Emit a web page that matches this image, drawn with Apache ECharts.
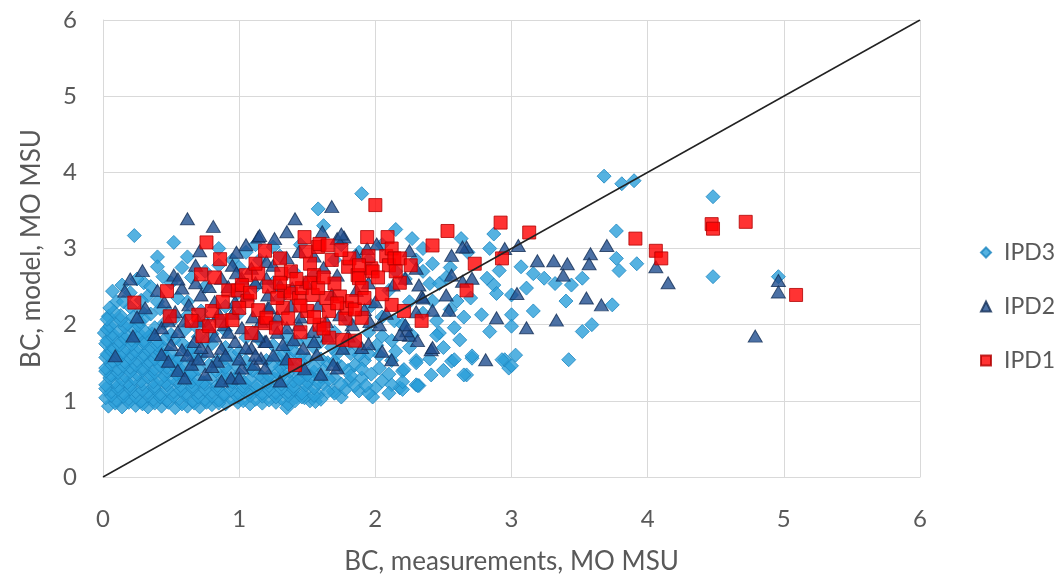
<!DOCTYPE html>
<html>
<head>
<meta charset="utf-8">
<title>BC model vs measurements</title>
<script src="https://cdn.jsdelivr.net/npm/echarts@6/dist/echarts.min.js"></script>
<style>
  html, body { margin: 0; padding: 0; background: #fff; }
  #chart { width: 1063px; height: 580px; }
</style>
</head>
<body>
<div id="chart"></div>
<script>
const ipd1 = [
  [0.23,2.29],[0.47,2.44],[0.49,2.11],[0.72,2.66],[0.76,3.08],[0.86,2.86],[0.92,2.45],[0.99,2.45],
  [0.70,2.13],[0.80,2.18],[0.87,2.05],[0.95,2.06],[0.73,1.85],[0.78,1.98],[1.05,2.65],[1.14,2.67],
  [1.19,2.97],[1.06,2.31],[1.14,2.19],[1.09,1.89],[1.19,2.02],[1.02,2.52],[1.20,2.09],[1.27,1.96],
  [1.30,2.87],[1.31,2.67],[1.38,2.70],[1.33,2.44],[1.32,2.22],[1.38,2.41],[1.41,1.47],[1.44,2.35],
  [1.46,2.48],[1.48,3.15],[1.49,2.96],[1.52,2.80],[1.50,2.18],[1.54,2.39],[1.55,2.65],[1.58,3.02],
  [1.59,3.06],[1.59,2.00],[1.64,2.35],[1.65,3.04],[1.66,2.18],[1.66,1.83],[1.70,2.54],[1.74,2.37],
  [1.76,1.80],[1.79,2.22],[1.80,2.76],[1.81,2.87],[1.83,2.31],[1.85,1.79],[1.87,2.65],[1.88,2.61],
  [1.90,2.09],[1.90,2.48],[1.94,3.15],[1.97,2.74],[1.98,2.70],[2.00,3.57],[2.09,3.15],[2.08,2.90],
  [2.10,2.78],[2.12,3.00],[2.12,2.26],[2.14,2.87],[2.18,2.87],[2.21,2.18],[2.26,2.78],[2.34,2.05],
  [2.42,3.04],[2.53,3.23],[2.67,2.45],[2.73,2.80],[2.92,3.34],[2.93,2.87],[3.13,3.21],[3.91,3.13],
  [4.06,2.97],[4.10,2.87],[4.47,3.32],[4.48,3.26],[4.72,3.35],[5.09,2.39],
  [1.12,2.80],[1.22,2.50],[1.28,2.35],[1.36,2.08],[1.42,2.60],[1.45,2.25],[1.52,2.55],[1.58,2.48],
  [1.62,2.62],[1.68,2.85],[1.72,2.28],[1.78,2.08],[1.85,2.20],[1.92,2.35],[1.95,2.90],[2.02,2.62],
  [2.05,2.40],[2.18,2.55],[1.75,2.98],[1.62,1.95],[1.55,2.10],[1.45,1.90],[1.30,2.55],[1.00,2.22],
  [0.88,2.30],[0.82,2.62],[1.08,2.42],[0.65,2.05],[1.88,2.78],[2.15,2.70]
];

const ipd2 = [
  [0.62,3.39],[0.81,3.29],[0.29,2.71],[0.52,2.65],[0.71,2.97],[0.16,2.44],[0.09,1.59],[0.95,2.78],
  [1.14,3.15],[1.41,3.39],[1.68,3.55],[1.26,3.13],[1.35,3.22],[1.61,3.22],[1.77,3.15],[1.72,3.13],
  [1.94,3.00],[2.01,3.06],[1.75,3.19],[2.25,2.97],[2.34,2.37],[2.41,1.67],[2.12,1.54],[1.90,1.70],
  [1.72,1.43],[2.25,1.86],[1.15,3.17],[3.05,3.04],[2.95,3.00],[2.67,3.02],[2.56,2.91],[3.19,2.84],
  [3.31,2.84],[3.41,2.80],[3.58,2.93],[3.57,2.80],[3.70,3.04],[3.38,2.65],[3.55,2.35],[3.66,2.26],
  [3.33,2.06],[3.11,1.96],[3.04,2.41],[2.89,2.09],[2.81,1.54],[2.54,2.19],[2.42,2.19],[2.35,2.35],
  [2.52,2.39],[2.64,2.57],[2.56,2.65],[2.71,2.61],[2.64,3.02],[4.06,2.76],[4.15,2.55],[4.96,2.58],
  [4.96,2.43],[4.79,1.85],[2.42,1.70],[2.23,1.92],[2.31,1.79],
  [0.50,1.74],[0.58,1.67],[0.65,1.48],[0.75,1.35],[0.84,1.52],[0.94,1.30],[1.02,1.43],[1.11,1.48],
  [1.16,1.56],[1.19,1.78],[1.09,1.69],[0.97,1.78],[0.87,1.69],[0.77,1.65],[0.67,1.78],[0.55,1.91],
  [0.43,1.96],[0.38,1.87],[0.53,2.17],[0.63,2.26],[0.72,2.39],[0.82,2.30],[0.97,2.30],[1.06,2.39],
  [0.87,2.61],[0.58,2.48],[0.31,2.22],[0.43,1.61],[0.77,2.00],[0.89,2.00],[1.02,1.96],[1.16,2.04],
  [1.21,2.22],[1.21,2.39],[1.09,2.74],[1.02,2.61],[1.19,1.43],[0.87,1.26],
  [1.20,2.61],[1.30,2.52],[1.39,2.48],[1.49,2.56],[1.22,2.22],[1.35,1.96],[1.44,2.00],[1.54,1.91],
  [1.64,2.04],[1.74,2.13],[1.83,2.00],[1.47,1.69],[1.32,1.74],[1.20,1.78],[1.57,1.61],[1.76,1.69],
  [1.69,1.48],[1.96,2.04],[2.03,2.00],[2.22,2.00],[2.30,2.17],[2.18,1.87],[1.30,1.26],[1.20,2.83],
  [1.44,2.96],[2.22,2.61],[2.32,2.52],[2.13,2.52],[2.30,2.74],[1.86,2.91],
  [0.48,1.52],[0.55,1.40],[0.62,1.60],[0.70,1.55],[0.72,1.70],[0.80,1.45],[0.82,1.85],[0.90,1.60],
  [0.92,1.90],[1.00,1.55],[1.05,1.70],[1.12,1.60],[1.14,1.85],[1.25,1.60],[1.28,1.90],[1.35,1.55],
  [1.40,1.80],[1.45,2.10],[1.38,2.25],[1.28,2.10],[1.10,2.10],[0.95,2.15],[0.85,2.15],[0.70,2.05],
  [0.60,2.05],[0.48,2.05],[0.45,2.30],[0.40,2.45],[0.55,2.60],[0.68,2.55],[0.78,2.50],[0.92,2.50],
  [1.12,2.55],[0.98,2.68],[1.25,2.78],[1.35,2.88],[1.55,2.90],[1.62,2.75],[1.72,2.65],[1.68,2.40],
  [1.58,2.25],[1.86,2.45],[1.95,2.55],[2.00,2.30],[2.08,2.15],[1.92,2.20],[1.55,1.78],[1.65,1.85],
  [1.80,1.85],[1.95,1.75],[2.05,1.65],[1.48,1.42],[1.60,1.35],[0.60,1.30],[1.00,1.30],[0.22,1.85],
  [0.25,2.10],[0.20,2.60],[1.05,3.05],[0.98,2.95],[0.68,2.78]
];

const ipd3 = [
  // sparse points
  [0.23,3.17],[0.52,3.08],[0.40,2.89],[0.40,2.76],[0.62,2.89],[0.44,2.63],[0.07,2.44],[0.14,2.52],
  [0.01,1.89],[0.04,2.11],[0.10,2.30],[0.20,2.42],[0.30,2.55],[0.33,2.38],
  [1.90,3.72],[1.58,3.52],[2.27,3.13],[2.42,2.80],[2.40,2.54],[2.42,2.31],[2.41,1.34],[2.30,1.21],
  [2.18,1.17],[2.05,1.26],[2.00,1.17],[1.88,1.13],[1.69,1.13],[2.03,1.43],[2.12,1.53],[2.20,1.39],
  [2.30,1.53],[2.27,1.86],[2.01,1.73],[1.92,1.53],[1.85,1.47],[1.81,1.26],[1.52,1.00],[1.35,0.91],
  [2.14,2.05],[2.12,1.79],
  [3.68,3.95],[2.87,3.19],[2.63,3.13],[3.77,3.23],[3.77,2.87],[2.84,3.00],[2.91,2.71],[3.07,2.76],
  [3.16,2.67],[3.24,2.61],[3.32,2.54],[3.44,2.52],[3.52,2.61],[3.74,2.26],[3.11,2.48],[3.00,2.39],
  [2.87,2.52],[2.82,2.61],[2.78,2.13],[3.00,2.13],[3.16,2.18],[3.40,2.31],[3.59,2.00],[3.52,1.91],
  [3.42,1.54],[3.03,1.60],[2.98,1.43],[2.95,1.54],[2.71,1.56],[2.67,1.34],[2.56,1.52],[2.84,1.91],
  [2.58,1.96],[2.47,1.89],[2.32,1.20],[2.60,2.31],[2.47,2.54],
  [3.81,3.85],[3.90,3.89],[4.48,3.68],[3.92,2.80],[3.79,2.71],[4.48,2.63],[4.96,2.63],
  [2.89,2.41],[3.00,1.98],[2.71,1.59],[2.58,1.54],[2.93,1.54],[3.00,1.46],[2.65,1.34],[2.30,1.50],
  [2.21,1.41],[2.31,1.20],[2.20,1.15],[2.12,1.21],[2.45,1.86],[2.03,1.60],
  [2.55,2.75],[2.68,2.95],[2.52,2.62],
  [2.45,2.05],[2.55,2.20],[2.65,2.10],[2.70,2.35],[2.50,1.70],[2.62,1.80],[2.40,1.55],[2.50,1.40],
  [2.15,1.65],[2.25,1.70],[2.05,1.85],[2.20,1.25],[2.10,1.35],[1.98,1.05],[2.10,1.10],
  // middle region
  [1.42,1.05],[1.50,1.15],[1.58,1.08],[1.62,1.22],[1.70,1.30],[1.75,1.05],[1.80,1.40],[1.90,1.30],
  [1.95,1.62],[1.45,1.30],[1.55,1.38],[1.65,1.50],[1.72,1.62],[1.85,1.75],[1.95,1.90],[2.05,2.10],
  [2.20,2.00],[2.25,2.30],[2.35,2.15],[1.60,1.78],[1.50,1.55],[1.40,1.45],[1.80,2.05],[1.97,2.25],
  [2.10,2.45],[2.22,2.60],[2.35,2.70],[1.55,2.65],[1.70,2.85],[1.88,2.95],[2.05,3.05],[2.15,3.25],
  [1.62,3.30],[1.25,3.02],[1.05,2.95],[1.12,3.05],[0.85,3.00],[0.95,2.85],
  [0.35,2.50],[0.25,2.60],[0.58,2.75],[0.75,2.70],[1.00,2.75],[1.30,2.90],[1.45,3.05],[1.75,3.05],
  [1.95,2.85],[2.15,2.70],[2.30,2.85],[2.35,3.00],
  // dense lower-left cloud
  [0.04,0.93],[0.14,0.92],[0.24,0.94],[0.33,0.92],[0.43,0.93],[0.53,0.91],[0.62,0.93],[0.71,0.92],
  [0.80,0.95],[0.90,0.96],
  [0.09,0.97],[0.19,0.98],[0.29,0.96],[0.38,0.97],[0.48,0.98],[0.58,0.96],[0.67,0.97],[0.76,0.98],
  [0.85,0.97],[0.99,0.98],[1.08,0.96],[1.17,0.97],[1.27,0.98],[1.36,0.96],[1.48,1.04],[1.56,0.99],
  [0.02,1.04],[0.10,1.01],[0.19,1.03],[0.28,1.00],[0.37,1.02],[0.47,1.01],[0.56,1.03],[0.66,1.00],
  [0.75,1.02],[0.85,1.01],[0.94,1.03],[1.03,1.00],[1.12,1.02],[1.22,1.01],[1.31,1.03],[1.41,1.00],
  [1.60,1.02],
  [0.06,1.07],[0.15,1.06],[0.24,1.05],[0.33,1.07],[0.42,1.05],[0.52,1.06],[0.61,1.07],[0.70,1.05],
  [0.80,1.06],[0.89,1.07],[0.99,1.05],[1.08,1.07],[1.17,1.06],[1.27,1.05],[1.36,1.07],[1.46,1.05],
  [1.55,1.07],[1.70,1.10],[1.78,1.15],[1.95,1.10],
  [0.06,1.12],[0.15,1.10],[0.24,1.12],[0.33,1.11],[0.42,1.09],[0.52,1.12],[0.61,1.10],[0.70,1.11],
  [0.80,1.12],[0.89,1.09],[0.99,1.11],[1.08,1.12],[1.17,1.10],[1.27,1.11],[1.36,1.12],[1.46,1.10],
  [1.65,1.12],[1.85,1.20],
  [0.02,1.16],[0.11,1.15],[0.20,1.16],[0.29,1.14],[0.38,1.16],[0.47,1.15],[0.57,1.14],[0.66,1.16],
  [0.75,1.15],[0.84,1.16],[0.94,1.14],[1.03,1.15],[1.13,1.16],[1.22,1.14],[1.31,1.16],[1.40,1.15],
  [1.55,1.17],[1.75,1.22],[1.93,1.20],
  [0.02,1.21],[0.11,1.19],[0.20,1.20],[0.29,1.22],[0.38,1.19],[0.47,1.21],[0.57,1.20],[0.66,1.19],
  [0.75,1.22],[0.84,1.20],[0.94,1.21],[1.03,1.19],[1.13,1.21],[1.22,1.20],[1.31,1.22],[1.40,1.19],
  [1.49,1.21],[1.58,1.24],
  [0.09,1.25],[0.18,1.24],[0.28,1.26],[0.37,1.25],[0.46,1.24],[0.55,1.26],[0.65,1.25],[0.74,1.24],
  [0.88,1.26],[0.95,1.25],[1.04,1.24],[1.21,1.25],[1.40,1.26],[1.50,1.25],[1.66,1.28],[1.82,1.33],
  [1.97,1.35],
  [0.05,1.30],[0.14,1.28],[0.23,1.29],[0.33,1.31],[0.42,1.28],[0.51,1.30],[0.60,1.29],[0.70,1.28],
  [0.79,1.30],[0.98,1.29],[1.08,1.28],[1.17,1.31],[1.26,1.29],[1.35,1.30],[1.44,1.28],[1.53,1.32],
  [0.06,1.34],[0.16,1.33],[0.25,1.35],[0.35,1.34],[0.45,1.33],[0.54,1.35],[0.64,1.34],[0.88,1.34],
  [1.00,1.35],[1.15,1.34],[1.22,1.33],[1.32,1.35],[1.50,1.34],[1.60,1.32],[1.75,1.45],[1.90,1.42],
  [0.02,1.39],[0.11,1.37],[0.20,1.38],[0.29,1.40],[0.38,1.37],[0.47,1.39],[0.56,1.38],[0.65,1.37],
  [0.83,1.39],[0.92,1.38],[1.10,1.40],[1.28,1.37],[1.37,1.39],[1.46,1.40],
  [0.02,1.43],[0.11,1.42],[0.20,1.44],[0.29,1.43],[0.38,1.42],[0.47,1.44],[0.56,1.43],[0.70,1.42],
  [0.90,1.44],[1.08,1.43],[1.30,1.44],[1.42,1.42],[1.55,1.45],[1.62,1.40],[1.70,1.52],[1.88,1.60],
  [1.78,1.70],
  [0.06,1.48],[0.15,1.46],[0.24,1.47],[0.33,1.49],[0.42,1.46],[0.51,1.48],[0.60,1.46],[0.78,1.47],
  [0.97,1.48],[1.24,1.47],[1.33,1.49],
  [0.07,1.52],[0.16,1.51],[0.25,1.53],[0.34,1.52],[0.44,1.51],[0.53,1.53],[0.66,1.52],[0.84,1.53],
  [1.05,1.52],[1.20,1.53],[1.35,1.51],[1.45,1.52],[1.60,1.55],[1.68,1.70],[1.82,1.62],
  [0.02,1.57],[0.11,1.55],[0.20,1.56],[0.29,1.58],[0.38,1.55],[0.47,1.57],[0.56,1.55],[0.72,1.58],
  [0.90,1.56],[1.28,1.58],[1.38,1.55],
  [0.03,1.61],[0.12,1.60],[0.21,1.62],[0.30,1.61],[0.40,1.60],[0.50,1.62],[0.68,1.61],[0.95,1.60],
  [1.33,1.62],[1.45,1.60],[1.55,1.70],[1.50,1.80],[1.70,1.90],
  [0.06,1.66],[0.15,1.64],[0.24,1.65],[0.33,1.67],[0.42,1.64],[0.62,1.66],[1.00,1.64],[1.40,1.66],
  [0.07,1.70],[0.17,1.69],[0.26,1.71],[0.35,1.70],[0.45,1.69],[0.65,1.70],[0.90,1.70],[1.35,1.70],
  [1.42,1.78],[1.60,1.95],
  [0.02,1.75],[0.12,1.73],[0.21,1.74],[0.30,1.76],[0.40,1.73],[0.58,1.76],[0.80,1.75],[1.25,1.73],
  [0.03,1.79],[0.12,1.78],[0.21,1.80],[0.30,1.79],[0.40,1.78],[0.52,1.80],[0.75,1.79],[1.15,1.80],
  [1.35,1.85],
  [0.07,1.84],[0.16,1.82],[0.25,1.83],[0.34,1.85],[0.46,1.82],[0.70,1.84],[1.05,1.83],
  [0.07,1.88],[0.17,1.87],[0.26,1.89],[0.36,1.88],[0.50,1.87],[0.80,1.88],[1.10,1.90],
  [0.03,1.94],[0.12,1.92],[0.22,1.95],[0.31,1.91],[0.60,1.93],[0.90,1.92],
  [0.05,1.98],[0.16,1.97],[0.26,1.99],[0.38,1.96],[0.68,1.98],[1.25,2.00],
  [0.08,2.03],[0.18,2.01],[0.27,2.04],[0.45,2.02],[0.75,2.05],
  [0.03,2.07],[0.13,2.06],[0.30,2.08],[0.52,2.07],[0.85,2.06],
  [0.13,2.12],[0.22,2.10],[0.35,2.14],[0.62,2.12],[1.00,2.15],
  [0.08,2.17],[0.28,2.18],[0.48,2.16],[0.72,2.18],
  [0.05,2.22],[0.20,2.23],[0.42,2.21],[0.90,2.24],[1.30,2.35],
  [0.15,2.30],[0.28,2.32],[0.40,2.30],[0.62,2.30],[0.98,2.40],[1.12,2.50],
  [0.55,2.35],[0.50,2.55],[0.75,2.50],[0.65,2.62],[0.85,2.78],[1.15,2.85],[1.40,2.70],[1.25,2.55]
];

// 1:1 reference line
const diagX = [0, 6];
const diagY = [0, 6];

const axisTicks = [0, 1, 2, 3, 4, 5, 6];

const chart = echarts.init(document.getElementById('chart'));

const labelFont = { color: '#595959', fontFamily: 'Lato', fontSize: 24 };
const gridColor = '#D9D9D9';

const option = {
  animation: false,
  backgroundColor: '#fff',
  grid: { left: 103, right: 143, top: 20, bottom: 100 },
  legend: {
    orient: 'vertical',
    left: 975,
    top: 236,
    itemWidth: 10,
    itemHeight: 10,
    itemGap: 31,
    textStyle: { color: '#595959', fontFamily: 'Lato', fontSize: 23, padding: [0, 0, 0, 8] },
    data: ['IPD3', 'IPD2', 'IPD1']
  },
  xAxis: {
    type: 'value',
    min: axisTicks[0],
    max: axisTicks[axisTicks.length - 1],
    interval: 1,
    name: 'BC, measurements, MO MSU',
    nameLocation: 'middle',
    nameGap: 72,
    nameTextStyle: { color: '#595959', fontFamily: 'Lato', fontSize: 26 },
    axisLine: { show: true, lineStyle: { color: gridColor } },
    axisTick: { show: false },
    axisLabel: Object.assign({ margin: 30 }, labelFont),
    splitLine: { show: true, lineStyle: { color: gridColor } }
  },
  yAxis: {
    type: 'value',
    min: axisTicks[0],
    max: axisTicks[axisTicks.length - 1],
    interval: 1,
    name: 'BC, model, MO MSU',
    nameLocation: 'middle',
    nameGap: 58,
    nameTextStyle: { color: '#595959', fontFamily: 'Lato', fontSize: 26 },
    axisLine: { show: true, lineStyle: { color: gridColor } },
    axisTick: { show: false },
    axisLabel: Object.assign({ margin: 26 }, labelFont),
    splitLine: { show: true, lineStyle: { color: gridColor } }
  },
  series: [
    {
      name: 'IPD3',
      type: 'scatter',
      symbol: 'diamond',
      symbolSize: 14,
      data: ipd3,
      itemStyle: { color: '#2B9FDA', borderColor: '#1C86C0', borderWidth: 1 },
      z: 2
    },
    {
      name: 'IPD2',
      type: 'scatter',
      symbol: 'triangle',
      symbolSize: [14, 12],
      data: ipd2,
      itemStyle: { color: '#1F4E8F', borderColor: '#142F58', borderWidth: 1 },
      z: 3
    },
    {
      name: 'IPD1',
      type: 'scatter',
      symbol: 'rect',
      symbolSize: 13,
      data: ipd1,
      itemStyle: { color: '#FF0000', borderColor: '#B00000', borderWidth: 1 },
      z: 4
    },
    {
      name: '1:1',
      type: 'line',
      data: diagX.map((x, i) => [x, diagY[i]]),
      symbol: 'none',
      lineStyle: { color: '#222', width: 1.5 },
      z: 5,
      silent: true
    }
  ]
};

chart.setOption(option);
</script>
</body>
</html>
